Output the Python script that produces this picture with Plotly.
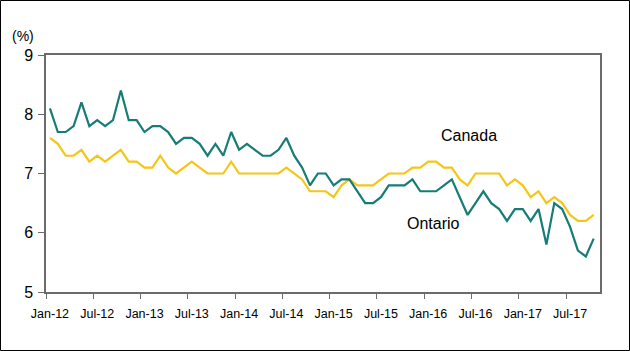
import plotly.graph_objects as go

months = []
for yr in range(12, 18):
    for m in ["Jan", "Feb", "Mar", "Apr", "May", "Jun", "Jul", "Aug", "Sep", "Oct", "Nov", "Dec"]:
        months.append(f"{m}-{yr}")
months = months[:70]  # Jan-12 .. Oct-17

ontario = [8.1, 7.7, 7.7, 7.8, 8.2, 7.8, 7.9, 7.8, 7.9, 8.4, 7.9, 7.9,
           7.7, 7.8, 7.8, 7.7, 7.5, 7.6, 7.6, 7.5, 7.3, 7.5, 7.3, 7.7,
           7.4, 7.5, 7.4, 7.3, 7.3, 7.4, 7.6, 7.3, 7.1, 6.8, 7.0, 7.0,
           6.8, 6.9, 6.9, 6.7, 6.5, 6.5, 6.6, 6.8, 6.8, 6.8, 6.9, 6.7,
           6.7, 6.7, 6.8, 6.9, 6.6, 6.3, 6.5, 6.7, 6.5, 6.4, 6.2, 6.4,
           6.4, 6.2, 6.4, 5.8, 6.5, 6.4, 6.1, 5.7, 5.6, 5.9]

canada = [7.6, 7.5, 7.3, 7.3, 7.4, 7.2, 7.3, 7.2, 7.3, 7.4, 7.2, 7.2,
          7.1, 7.1, 7.3, 7.1, 7.0, 7.1, 7.2, 7.1, 7.0, 7.0, 7.0, 7.2,
          7.0, 7.0, 7.0, 7.0, 7.0, 7.0, 7.1, 7.0, 6.9, 6.7, 6.7, 6.7,
          6.6, 6.8, 6.9, 6.8, 6.8, 6.8, 6.9, 7.0, 7.0, 7.0, 7.1, 7.1,
          7.2, 7.2, 7.1, 7.1, 6.9, 6.8, 7.0, 7.0, 7.0, 7.0, 6.8, 6.9,
          6.8, 6.6, 6.7, 6.5, 6.6, 6.5, 6.3, 6.2, 6.2, 6.3]

tick_labels = ["Jan-12", "Jul-12", "Jan-13", "Jul-13", "Jan-14", "Jul-14",
               "Jan-15", "Jul-15", "Jan-16", "Jul-16", "Jan-17", "Jul-17"]
y_ticks = [5, 6, 7, 8, 9]

idx = list(range(len(months)))
label_pos = [months.index(t) for t in tick_labels]
boundary_pos = [p - 0.5 for p in label_pos]

W, H = 630, 351
L, R, T, B = 46, 30, 55, 59

fig = go.Figure()
fig.add_trace(go.Scatter(x=idx, y=canada, mode="lines", name="Canada",
                         line=dict(color="#F5C518", width=2.2), hovertext=months))
fig.add_trace(go.Scatter(x=idx, y=ontario, mode="lines", name="Ontario",
                         line=dict(color="#167C75", width=2.2), hovertext=months))

axis_col = "#6b6b6b"
fig.update_layout(
    width=W, height=H,
    margin=dict(l=L, r=R, t=T, b=B),
    paper_bgcolor="white", plot_bgcolor="white",
    showlegend=False,
    font=dict(family="Arial, Liberation Sans, sans-serif", color="#000000"),
    xaxis=dict(
        range=[-0.5, 69.8], tickmode="array", tickvals=label_pos, ticktext=tick_labels,
        ticks="", showgrid=False, zeroline=False,
        showline=True, mirror=True, linecolor=axis_col, linewidth=1.5,
        tickfont=dict(size=12.5), ticklabelstandoff=9,
        minor=dict(tickmode="array", tickvals=boundary_pos, ticks="outside",
                   ticklen=5, tickcolor=axis_col, tickwidth=1, showgrid=False),
    ),
    yaxis=dict(
        range=[5, 9], tickmode="array", tickvals=y_ticks,
        ticks="outside", ticklen=6, tickcolor=axis_col,
        showgrid=False, zeroline=False,
        showline=True, mirror=True, linecolor=axis_col, linewidth=1.5,
        tickfont=dict(size=16), ticklabelstandoff=2,
    ),
)

pw, ph = W - L - R, H - T - B
fig.add_shape(type="rect", xref="paper", yref="paper",
              x0=(-L + 0.5) / pw, x1=(pw + R - 0.5) / pw,
              y0=(-B + 0.5) / ph, y1=(ph + T - 0.5) / ph,
              line=dict(color="#000000", width=1))

fig.add_annotation(text="(%)", xref="paper", yref="paper",
                   x=(22.5 - L) / pw, y=(H - B - 36.5) / ph, yanchor="middle", xanchor="center",
                   showarrow=False, font=dict(size=14))
fig.add_annotation(text="Canada", x=53.2, y=7.64, xref="x", yref="y",
                   showarrow=False, font=dict(size=16))
fig.add_annotation(text="Ontario", x=48.7, y=6.16, xref="x", yref="y",
                   showarrow=False, font=dict(size=16))

fig.write_html("out.html")
